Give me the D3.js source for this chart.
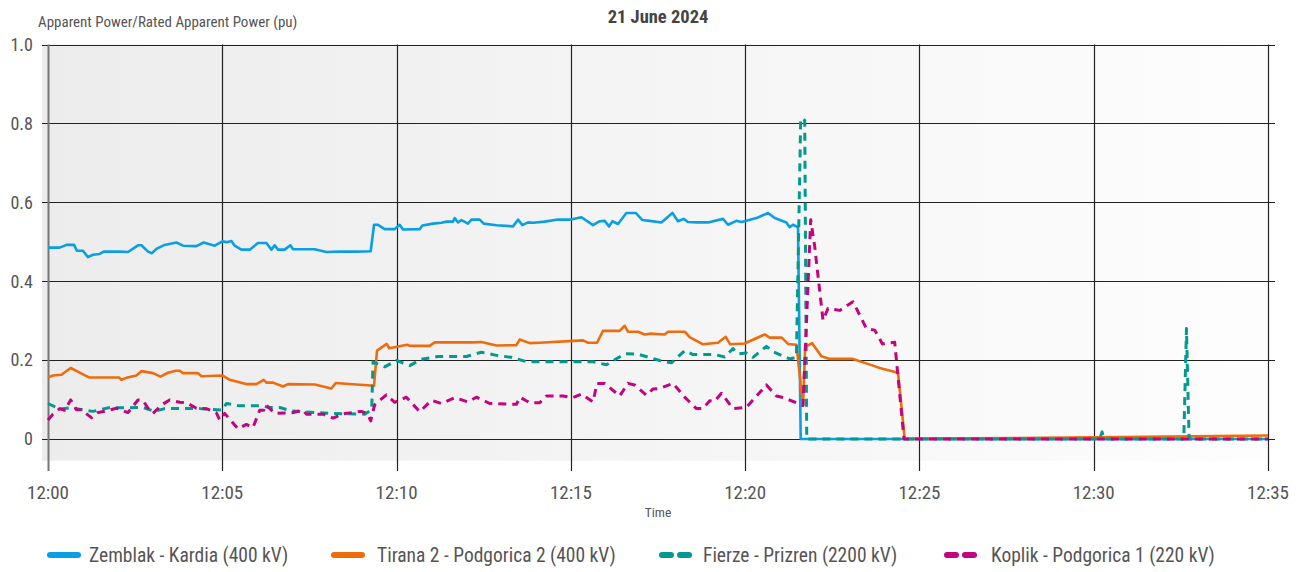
<!DOCTYPE html>
<html>
<head>
<meta charset="utf-8">
<script src="https://cdn.jsdelivr.net/npm/d3@7"></script>
<style>
    body { margin: 0; background: #fff; }
    svg text { font-family: "Liberation Sans Narrow", "Roboto Condensed", "DejaVu Sans Condensed", sans-serif; font-stretch: condensed; fill: #555; }
</style>
</head>
<body>
<div id="chart"></div>
<script>
// minutes after 12:00, value in pu
var zemblakKardia = [[0, 0.485], [0.336, 0.485], [0.528, 0.492], [0.746, 0.492], [0.832, 0.477], [1.004, 0.477], [1.148, 0.461], [1.291, 0.467], [1.483, 0.469], [1.598, 0.475], [2.057, 0.475], [2.295, 0.474], [2.582, 0.491], [2.680, 0.491], [2.869, 0.475], [2.984, 0.471], [3.110, 0.482], [3.348, 0.492], [3.684, 0.498], [3.873, 0.490], [4.257, 0.489], [4.467, 0.498], [4.782, 0.490], [5.003, 0.501], [5.118, 0.499], [5.262, 0.502], [5.356, 0.490], [5.548, 0.480], [5.787, 0.480], [6.025, 0.497], [6.266, 0.497], [6.409, 0.480], [6.504, 0.491], [6.598, 0.480], [6.791, 0.480], [6.954, 0.491], [7.029, 0.481], [7.651, 0.481], [7.987, 0.474], [8.369, 0.475], [8.848, 0.475], [9.258, 0.476], [9.353, 0.543], [9.467, 0.543], [9.660, 0.532], [9.946, 0.532], [10.090, 0.543], [10.185, 0.531], [10.664, 0.532], [10.741, 0.541], [11.045, 0.546], [11.286, 0.548], [11.430, 0.551], [11.619, 0.551], [11.668, 0.560], [11.763, 0.549], [11.860, 0.555], [12.049, 0.546], [12.147, 0.556], [12.385, 0.556], [12.500, 0.546], [12.864, 0.542], [13.340, 0.539], [13.484, 0.556], [13.610, 0.542], [13.771, 0.549], [13.914, 0.548], [14.250, 0.551], [14.585, 0.556], [14.967, 0.556], [15.303, 0.562], [15.636, 0.542], [15.828, 0.552], [15.971, 0.553], [16.095, 0.539], [16.192, 0.552], [16.353, 0.545], [16.593, 0.573], [16.860, 0.573], [17.053, 0.555], [17.262, 0.553], [17.598, 0.549], [17.913, 0.573], [18.074, 0.552], [18.237, 0.558], [18.361, 0.550], [18.602, 0.549], [18.935, 0.549], [19.365, 0.558], [19.508, 0.543], [19.749, 0.553], [19.893, 0.550], [20.036, 0.553], [20.323, 0.560], [20.656, 0.573], [20.848, 0.560], [21.183, 0.549], [21.278, 0.537], [21.373, 0.543], [21.517, 0.537], [21.594, 0], [35, 0]];

var tiranaPodgorica = [[0, 0.156], [0.143, 0.161], [0.384, 0.163], [0.651, 0.180], [0.909, 0.168], [1.176, 0.156], [2.037, 0.156], [2.106, 0.150], [2.249, 0.155], [2.536, 0.161], [2.680, 0.172], [3.012, 0.167], [3.225, 0.158], [3.443, 0.168], [3.664, 0.173], [3.778, 0.173], [3.873, 0.167], [4.303, 0.167], [4.401, 0.159], [5.003, 0.161], [5.213, 0.150], [5.709, 0.139], [5.979, 0.139], [6.188, 0.150], [6.266, 0.143], [6.455, 0.143], [6.742, 0.133], [6.885, 0.139], [7.651, 0.138], [8.130, 0.128], [8.254, 0.142], [9.353, 0.135], [9.439, 0.224], [9.717, 0.241], [9.789, 0.230], [10.305, 0.239], [10.377, 0.236], [10.950, 0.236], [11.094, 0.245], [12.193, 0.245], [12.434, 0.246], [12.864, 0.237], [13.438, 0.238], [13.532, 0.252], [13.819, 0.243], [14.106, 0.244], [15.348, 0.250], [15.492, 0.244], [15.750, 0.244], [15.922, 0.274], [16.401, 0.274], [16.544, 0.287], [16.639, 0.272], [16.926, 0.272], [17.118, 0.265], [17.262, 0.267], [17.692, 0.265], [17.787, 0.272], [18.266, 0.272], [18.409, 0.258], [18.791, 0.240], [19.221, 0.244], [19.442, 0.259], [19.571, 0.240], [19.987, 0.242], [20.561, 0.265], [20.704, 0.257], [21.049, 0.257], [21.230, 0.241], [21.471, 0.239], [21.660, 0.085], [21.723, 0.233], [21.918, 0.243], [22.188, 0.210], [22.426, 0.203], [23.095, 0.203], [23.669, 0.186], [23.861, 0.180], [24.386, 0.168], [24.578, 0], [25, 0.001], [30, 0.004], [35, 0.009]];

var fierzePrizren = [[0, 0.090], [0.336, 0.076], [0.623, 0.079], [1.291, 0.070], [1.721, 0.079], [2.249, 0.079], [2.725, 0.080], [3.061, 0.070], [3.348, 0.077], [4.352, 0.077], [5.003, 0.073], [5.118, 0.090], [5.500, 0.084], [6.122, 0.084], [6.360, 0.080], [6.647, 0.080], [6.983, 0.071], [8.082, 0.065], [9.086, 0.063], [9.287, 0.074], [9.324, 0.195], [9.660, 0.183], [9.995, 0.199], [10.377, 0.186], [10.712, 0.202], [11.189, 0.209], [12.004, 0.209], [12.434, 0.220], [12.864, 0.212], [13.295, 0.207], [13.725, 0.196], [14.106, 0.196], [15.636, 0.196], [16.020, 0.188], [16.545, 0.216], [16.926, 0.215], [17.549, 0.199], [17.885, 0.193], [18.266, 0.224], [18.504, 0.214], [19.127, 0.214], [19.414, 0.208], [19.652, 0.229], [19.796, 0.216], [20.036, 0.218], [20.225, 0.207], [20.610, 0.235], [20.800, 0.221], [21.278, 0.203], [21.471, 0.207], [21.594, 0.813], [21.709, 0.808], [21.767, 0], [30.174, 0], [30.240, 0.018], [30.289, 0], [32.584, 0], [32.661, 0.280], [32.736, 0], [35, 0]];

var koplikPodgorica = [[0, 0.048], [0.143, 0.063], [0.336, 0.077], [0.479, 0.073], [0.651, 0.099], [0.815, 0.074], [0.958, 0.074], [1.245, 0.054], [1.434, 0.067], [1.675, 0.071], [1.962, 0.078], [2.295, 0.067], [2.582, 0.099], [2.725, 0.098], [2.869, 0.078], [3.012, 0.065], [3.253, 0.086], [3.491, 0.099], [3.778, 0.093], [3.970, 0.092], [4.257, 0.078], [4.544, 0.077], [4.831, 0.066], [4.926, 0.048], [5.069, 0.065], [5.451, 0.026], [5.692, 0.037], [5.881, 0.029], [6.073, 0.073], [6.188, 0.073], [6.246, 0.087], [6.504, 0.065], [7.029, 0.067], [7.316, 0.073], [7.413, 0.063], [7.889, 0.063], [8.176, 0.053], [8.463, 0.064], [8.991, 0.070], [9.163, 0.064], [9.258, 0.046], [9.373, 0.087], [9.708, 0.112], [9.946, 0.093], [10.282, 0.106], [10.664, 0.069], [11.000, 0.098], [11.286, 0.090], [11.668, 0.105], [12.049, 0.094], [12.290, 0.106], [12.672, 0.090], [13.438, 0.088], [13.532, 0.106], [13.819, 0.092], [14.106, 0.092], [14.298, 0.109], [14.774, 0.109], [15.061, 0.105], [15.303, 0.114], [15.636, 0.094], [15.750, 0.141], [15.971, 0.141], [16.401, 0.109], [16.639, 0.141], [16.831, 0.137], [17.167, 0.111], [17.358, 0.127], [17.549, 0.128], [17.931, 0.141], [18.266, 0.106], [18.602, 0.077], [18.791, 0.077], [18.984, 0.097], [19.127, 0.096], [19.319, 0.116], [19.652, 0.077], [20.036, 0.080], [20.610, 0.137], [20.897, 0.109], [21.088, 0.105], [21.471, 0.092], [21.566, 0.088], [21.660, 0.085], [21.881, 0.556], [21.996, 0.488], [22.234, 0.301], [22.378, 0.331], [22.713, 0.326], [23.095, 0.348], [23.479, 0.280], [23.718, 0.276], [23.939, 0.241], [24.053, 0.243], [24.291, 0.245], [24.558, 0], [35, 0]];

var seriesNames = ["Zemblak - Kardia (400 kV)", "Tirana 2 - Podgorica 2 (400 kV)", "Fierze - Prizren (2200 kV)", "Koplik - Podgorica 1 (220 kV)"];
var seriesData = [zemblakKardia, tiranaPodgorica, fierzePrizren, koplikPodgorica];
var seriesColors = ["#0a9fe2", "#ee6c0c", "#009a8f", "#c4037f"];
var seriesDashed = [false, false, true, true];

var yTicks = [0, 0.2, 0.4, 0.6, 0.8, 1.0];
var yTickLabels = ["0", "0.2", "0.4", "0.6", "0.8", "1.0"];
var xTickMinutes = [0, 5, 10, 15, 20, 25, 30, 35];

var chartTitle = "21 June 2024";
var yTitle = "Apparent Power/Rated Apparent Power (pu)";
var xTitle = "Time";

var W = 1306, H = 572;
var start = new Date(2024, 5, 21, 12, 0, 0);
function toDate(m) { return new Date(start.getTime() + m * 60000); }

var svg = d3.select("#chart").append("svg")
    .attr("width", W)
    .attr("height", H);

var x = d3.scaleTime()
    .domain([toDate(0), toDate(35)])
    .range([48, 1268]);

var y = d3.scaleLinear()
    .domain([0, 1])
    .range([439, 44.5]);

// background gradient
var grad = svg.append("defs").append("linearGradient")
    .attr("id", "bg")
    .attr("x1", "0%").attr("x2", "100%").attr("y1", "0%").attr("y2", "0%");
grad.append("stop").attr("offset", "0%").attr("stop-color", "#ececec");
grad.append("stop").attr("offset", "100%").attr("stop-color", "#fdfdfd");

svg.append("rect")
    .attr("x", 42)
    .attr("y", y(1))
    .attr("width", x(toDate(35)) - 42)
    .attr("height", y(-0.055) - y(1))
    .attr("fill", "url(#bg)");

// horizontal grid
svg.append("g")
    .selectAll("line")
    .data(yTicks)
    .enter().append("line")
    .attr("x1", 42).attr("x2", 1275)
    .attr("y1", function (d) { return Math.round(y(d)) + 0.5; })
    .attr("y2", function (d) { return Math.round(y(d)) + 0.5; })
    .attr("stroke", "#222")
    .attr("stroke-width", 1.2);

// vertical grid
svg.append("g")
    .selectAll("line")
    .data(xTickMinutes)
    .enter().append("line")
    .attr("x1", function (d) { return Math.round(x(toDate(d))) + 0.5; })
    .attr("x2", function (d) { return Math.round(x(toDate(d))) + 0.5; })
    .attr("y1", y(1))
    .attr("y2", 471)
    .attr("stroke", function (d) { return d === 0 ? "#777" : "#222"; })
    .attr("stroke-width", function (d) { return d === 0 ? 2 : 1.2; });

// y tick labels
svg.append("g")
    .selectAll("text")
    .data(yTicks)
    .enter().append("text")
    .attr("x", 33)
    .attr("y", function (d) { return y(d); })
    .attr("dy", "0.35em")
    .attr("text-anchor", "end")
    .style("font-size", "18px")
    .text(function (d, i) { return yTickLabels[i]; });

// x tick labels
var fmt = d3.timeFormat("%H:%M");
svg.append("g")
    .selectAll("text")
    .data(xTickMinutes)
    .enter().append("text")
    .attr("x", function (d) { return x(toDate(d)); })
    .attr("y", 492)
    .attr("dy", "0.35em")
    .attr("text-anchor", "middle")
    .style("font-size", "19px")
    .text(function (d) { return fmt(toDate(d)); });

svg.append("text")
    .attr("x", 658).attr("y", 517)
    .attr("text-anchor", "middle")
    .style("font-size", "13.5px")
    .text(xTitle);

svg.append("text")
    .attr("x", 38).attr("y", 27)
    .style("font-size", "15px")
    .text(yTitle);

svg.append("text")
    .attr("x", 658).attr("y", 23)
    .attr("text-anchor", "middle")
    .style("font-size", "18.5px")
    .style("font-weight", "bold")
    .style("fill", "#444")
    .text(chartTitle);

// lines
var line = d3.line()
    .x(function (d) { return x(toDate(d[0])); })
    .y(function (d) { return y(d[1]); });

var order = [0, 1, 2, 3];
svg.append("g")
    .selectAll("path")
    .data(order)
    .enter().append("path")
    .attr("d", function (i) { return line(seriesData[i]); })
    .attr("fill", "none")
    .attr("stroke", function (i) { return seriesColors[i]; })
    .attr("stroke-width", function (i) { return seriesDashed[i] ? 3 : 2.6; })
    .attr("stroke-linejoin", "round")
    .attr("stroke-dasharray", function (i) { return seriesDashed[i] ? "8,6" : null; });

// legend
var legendX = [47, 331, 659, 944];
var legend = svg.append("g")
    .selectAll("g")
    .data(order)
    .enter().append("g")
    .attr("transform", function (i) { return "translate(" + legendX[i] + ",555)"; });

legend.append("line")
    .attr("x1", 3).attr("x2", 31)
    .attr("y1", 0).attr("y2", 0)
    .attr("stroke", function (i) { return seriesColors[i]; })
    .attr("stroke-width", 6)
    .attr("stroke-linecap", "round")
    .attr("stroke-dasharray", function (i) { return seriesDashed[i] ? "9,9" : null; });

legend.append("text")
    .attr("x", function (i) { return [42, 46, 44, 47][i]; })
    .attr("y", 0)
    .attr("dy", "0.35em")
    .style("font-size", "19.5px")
    .text(function (i) { return seriesNames[i]; });
</script>
</body>
</html>
